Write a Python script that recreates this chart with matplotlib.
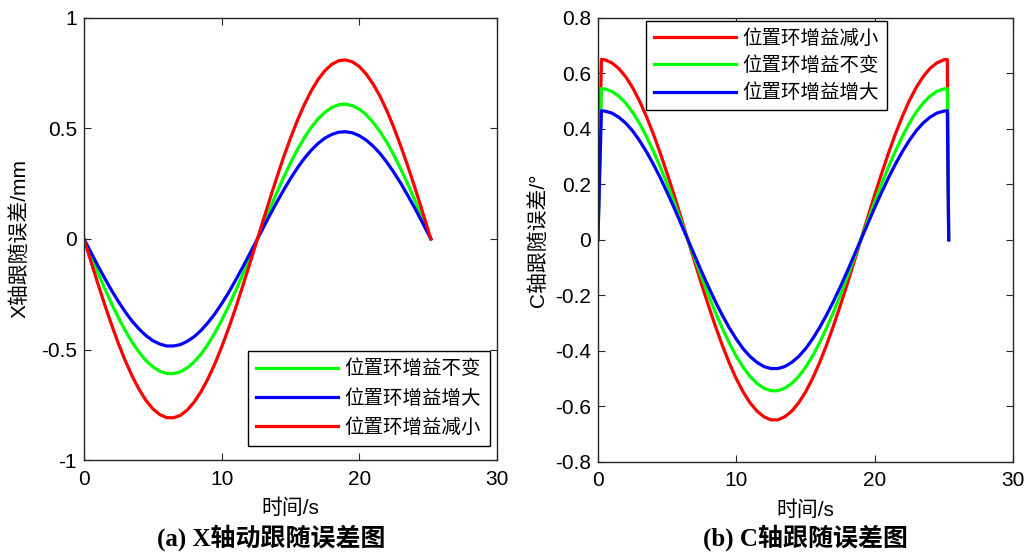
import matplotlib
matplotlib.use('Agg')
import matplotlib.pyplot as plt
import numpy as np
from matplotlib.ticker import FormatStrFormatter

plt.rcParams['font.family'] = ['Liberation Sans', 'Noto Sans CJK SC']
plt.rcParams['axes.unicode_minus'] = False

# (a) X axis following error (mm), sampled every 0.5 s
t_x = list(np.arange(0, 25.5, 0.5)) + [25.2]
x_green = [0, -0.076, -0.151, -0.223, -0.292, -0.356, -0.415, -0.467, -0.512, -0.550,
           -0.578, -0.598, -0.608, -0.609, -0.601, -0.583, -0.556, -0.521, -0.477, -0.426,
           -0.368, -0.305, -0.237, -0.165, -0.091, -0.015, 0.061, 0.136, 0.209, 0.278,
           0.344, 0.404, 0.457, 0.504, 0.543, 0.573, 0.595, 0.607, 0.610, 0.603,
           0.587, 0.562, 0.528, 0.486, 0.437, 0.380, 0.318, 0.251, 0.180, 0.106,
           0.030, 0]
x_blue = [0, -0.060, -0.120, -0.177, -0.232, -0.283, -0.330, -0.372, -0.407, -0.437,
          -0.460, -0.475, -0.484, -0.484, -0.478, -0.463, -0.442, -0.414, -0.379, -0.339,
          -0.293, -0.243, -0.188, -0.131, -0.072, -0.012, 0.048, 0.108, 0.166, 0.221,
          0.273, 0.321, 0.364, 0.401, 0.432, 0.456, 0.473, 0.483, 0.485, 0.480,
          0.467, 0.447, 0.420, 0.387, 0.347, 0.302, 0.253, 0.199, 0.143, 0.084,
          0.024, 0]
x_red = [0, -0.101, -0.200, -0.296, -0.387, -0.473, -0.551, -0.620, -0.680, -0.730,
         -0.768, -0.794, -0.808, -0.809, -0.798, -0.774, -0.738, -0.691, -0.633, -0.566,
         -0.489, -0.405, -0.315, -0.219, -0.121, -0.020, 0.081, 0.180, 0.277, 0.370,
         0.456, 0.536, 0.607, 0.669, 0.721, 0.761, 0.790, 0.806, 0.810, 0.801,
         0.780, 0.746, 0.701, 0.646, 0.580, 0.505, 0.422, 0.333, 0.239, 0.141,
         0.040, 0]

# (b) C axis following error (deg)
t_c = [0, 0.25] + list(np.arange(0.5, 25.5, 0.5)) + [25.25, 25.35]
c_red = [0, 0.65,
         0.649, 0.638, 0.618, 0.588, 0.549, 0.501, 0.445, 0.382, 0.313, 0.239,
         0.162, 0.081, 0, -0.081, -0.162, -0.239, -0.313, -0.382, -0.445, -0.501,
         -0.549, -0.588, -0.618, -0.638, -0.649, -0.649, -0.638, -0.618, -0.588, -0.549,
         -0.501, -0.445, -0.382, -0.313, -0.239, -0.162, -0.081, 0, 0.081, 0.162,
         0.239, 0.313, 0.382, 0.445, 0.501, 0.549, 0.588, 0.618, 0.638, 0.649,
         0.65, 0]
c_green = [0, 0.545,
           0.544, 0.535, 0.518, 0.493, 0.460, 0.420, 0.373, 0.320, 0.263, 0.201,
           0.136, 0.068, 0, -0.068, -0.136, -0.201, -0.263, -0.320, -0.373, -0.420,
           -0.460, -0.493, -0.518, -0.535, -0.544, -0.544, -0.535, -0.518, -0.493, -0.460,
           -0.420, -0.373, -0.320, -0.263, -0.201, -0.136, -0.068, 0, 0.068, 0.136,
           0.201, 0.263, 0.320, 0.373, 0.420, 0.460, 0.493, 0.518, 0.535, 0.544,
           0.545, 0]
c_blue = [0, 0.465,
          0.464, 0.457, 0.442, 0.421, 0.393, 0.358, 0.318, 0.273, 0.224, 0.171,
          0.116, 0.058, 0, -0.058, -0.116, -0.171, -0.224, -0.273, -0.318, -0.358,
          -0.393, -0.421, -0.442, -0.457, -0.464, -0.464, -0.457, -0.442, -0.421, -0.393,
          -0.358, -0.318, -0.273, -0.224, -0.171, -0.116, -0.058, 0, 0.058, 0.116,
          0.171, 0.224, 0.273, 0.318, 0.358, 0.393, 0.421, 0.442, 0.457, 0.464,
          0.465, 0]

lab_same = '位置环增益不变'
lab_up = '位置环增益增大'
lab_down = '位置环增益减小'

fs = 15
lfs = 14
lw = 2.3
axcol = '#262626'

fig = plt.figure(figsize=(10.29, 5.59), dpi=100)
ax1 = fig.add_axes([0.0816, 0.177, 0.4014, 0.791])
ax2 = fig.add_axes([0.5811, 0.174, 0.4034, 0.794])

ax1.plot(t_x, x_green, color='#00ff00', lw=lw, label=lab_same)
ax1.plot(t_x, x_blue, color='#0000ff', lw=lw, label=lab_up)
ax1.plot(t_x, x_red, color='#ff0000', lw=lw, label=lab_down)
ax1.set_xlim(0, 30)
ax1.set_ylim(-1, 1)
ax1.set_xticks([0, 10, 20, 30])
ax1.set_yticks([-1, -0.5, 0, 0.5, 1])
ax1.set_xlabel('时间/s', fontsize=fs, labelpad=7)
ax1.set_ylabel('X轴跟随误差/mm', fontsize=fs, labelpad=8)
ax1.legend(loc='lower right', bbox_to_anchor=(0.983, 0.032), borderaxespad=0,
           fontsize=lfs, handlelength=4.2, handletextpad=0.35, fancybox=False,
           edgecolor='black', framealpha=1, labelspacing=0.55, borderpad=0.45)

ax2.plot(t_c, c_red, color='#ff0000', lw=lw, label=lab_down)
ax2.plot(t_c, c_green, color='#00ff00', lw=lw, label=lab_same)
ax2.plot(t_c, c_blue, color='#0000ff', lw=lw, label=lab_up)
ax2.set_xlim(0, 30)
ax2.set_ylim(-0.8, 0.8)
ax2.set_xticks([0, 10, 20, 30])
ax2.set_yticks([-0.8, -0.6, -0.4, -0.2, 0, 0.2, 0.4, 0.6, 0.8])
ax2.set_xlabel('时间/s', fontsize=fs, labelpad=7)
ax2.set_ylabel('C轴跟随误差/°', fontsize=fs, labelpad=5)
ax2.legend(loc='upper left', bbox_to_anchor=(0.116, 0.993), borderaxespad=0,
           fontsize=lfs, handlelength=4.2, handletextpad=0.35, fancybox=False,
           edgecolor='black', framealpha=1, labelspacing=0.45, borderpad=0.4)

for ax in (ax1, ax2):
    ax.tick_params(direction='in', top=True, right=True, labelsize=fs, length=5,
                   color=axcol, labelcolor='black')
    ax.tick_params(axis='x', pad=7)
    ax.tick_params(axis='y', pad=5)
    ax.yaxis.set_major_formatter(FormatStrFormatter('%g'))
    for s in ax.spines.values():
        s.set_linewidth(1.0)
        s.set_color(axcol)

cap_font = ['Liberation Serif', 'Noto Sans CJK SC']
fig.text(0.264, 0.038, '(a) X轴动跟随误差图', ha='center', va='center',
         fontsize=18, fontweight='bold', family=cap_font)
fig.text(0.783, 0.038, '(b) C轴跟随误差图', ha='center', va='center',
         fontsize=18, fontweight='bold', family=cap_font)

fig.savefig('out.png', dpi=100)
